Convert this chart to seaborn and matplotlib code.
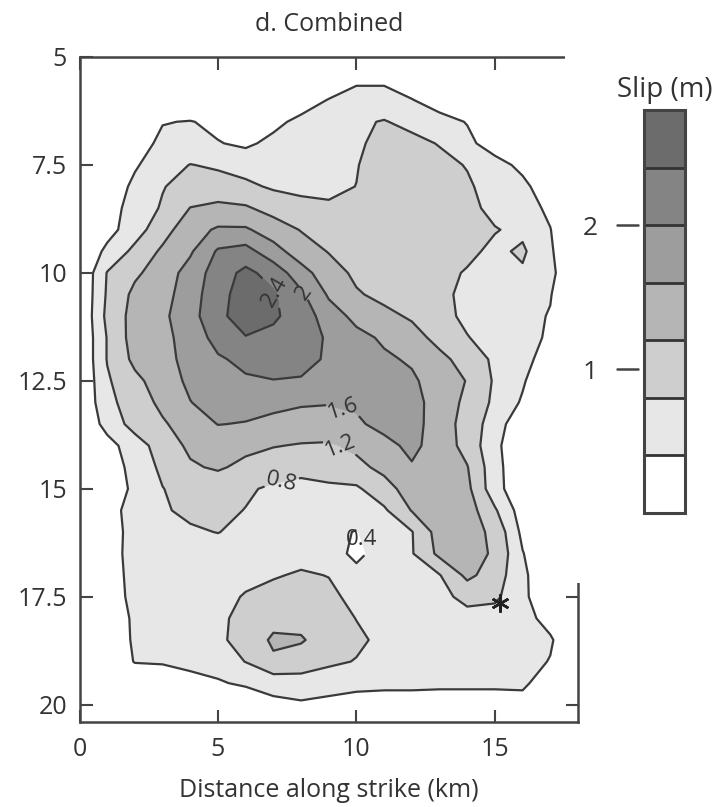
import matplotlib
matplotlib.use("Agg")
import matplotlib.pyplot as plt
import seaborn as sns
import numpy as np
from matplotlib.patches import Rectangle

# ---- data (slip in metres) ----
x_km = [0, 1, 2, 3, 4, 5, 6, 7, 8, 9, 10, 11, 12, 13, 14, 15, 16, 17, 18]
y_km = [5.0, 5.5, 6.0, 6.5, 7.0, 7.5, 8.0, 8.5, 9.0, 9.5, 10.0, 10.5, 11.0, 11.5,
        12.0, 12.5, 13.0, 13.5, 14.0, 14.5, 15.0, 15.5, 16.0, 16.5, 17.0, 17.5,
        18.0, 18.5, 19.0, 19.5, 20.0, 20.5]
slip_m = [
    [0, 0, 0, 0, 0, 0, 0, 0, 0, 0, 0, 0, 0, 0, 0, 0, 0, 0, 0],
    [0, 0, 0, 0, 0, 0, 0, 0, 0, 0.1, 0.3, 0.3, 0.1, 0, 0, 0, 0, 0, 0],
    [0, 0, 0, 0, 0, 0, 0, 0, 0.2, 0.42, 0.6, 0.6, 0.42, 0.2, 0, 0, 0, 0, 0],
    [0, 0, 0, 0.38, 0.42, 0.3, 0.25, 0.3, 0.5, 0.6, 0.75, 0.82, 0.7, 0.55, 0.38, 0.2, 0, 0, 0],
    [0, 0, 0.2, 0.5, 0.55, 0.42, 0.33, 0.5, 0.6, 0.65, 0.75, 0.9, 0.9, 0.78, 0.5, 0.2, 0, 0, 0],
    [0, 0, 0.35, 0.65, 0.81, 0.75, 0.65, 0.68, 0.7, 0.72, 0.78, 1.0, 1.0, 0.9, 0.78, 0.55, 0.3, 0, 0],
    [0, 0.1, 0.5, 0.78, 0.95, 0.95, 0.88, 0.75, 0.72, 0.72, 0.805, 1.0, 1.05, 1.0, 0.85, 0.65, 0.5, 0.15, 0],
    [0, 0.2, 0.58, 0.84, 1.21, 1.3, 1.25, 1.05, 0.9, 0.85, 0.9, 1.0, 1.05, 1.0, 0.9, 0.7, 0.55, 0.33, 0],
    [0, 0.25, 0.63, 1.04, 1.45, 1.65, 1.65, 1.41, 1.18, 1.01, 0.97, 1.0, 1.0, 0.95, 0.9, 0.82, 0.72, 0.41, 0],
    [0, 0.5, 0.9, 1.27, 1.55, 2.05, 2.15, 1.75, 1.4, 1.18, 1.05, 1.0, 0.98, 0.95, 0.88, 0.72, 0.86, 0.45, 0],
    [0, 0.82, 1.13, 1.4, 1.75, 2.2, 2.5, 2.25, 1.75, 1.38, 1.12, 1.05, 1.0, 0.9, 0.77, 0.65, 0.75, 0.5, 0],
    [0, 0.85, 1.3, 1.45, 1.82, 2.25, 2.6, 2.45, 2.08, 1.55, 1.24, 1.1, 1.0, 0.88, 0.72, 0.62, 0.55, 0.42, 0],
    [0, 0.9, 1.35, 1.52, 1.85, 2.3, 2.6, 2.45, 2.25, 1.78, 1.5, 1.3, 1.15, 0.95, 0.7, 0.6, 0.5, 0.38, 0],
    [0, 0.82, 1.38, 1.5, 1.75, 2.15, 2.38, 2.32, 2.15, 1.96, 1.7, 1.55, 1.35, 1.08, 0.82, 0.62, 0.52, 0.35, 0],
    [0, 0.82, 1.3, 1.5, 1.7, 1.95, 2.1, 2.15, 2.12, 1.95, 1.75, 1.65, 1.56, 1.3, 1.05, 0.72, 0.5, 0.25, 0],
    [0, 0.75, 1.1, 1.4, 1.68, 1.85, 1.95, 1.99, 1.97, 1.85, 1.75, 1.7, 1.65, 1.45, 1.18, 0.75, 0.45, 0, 0],
    [0, 0.7, 0.98, 1.3, 1.59, 1.75, 1.75, 1.7, 1.64, 1.62, 1.65, 1.72, 1.72, 1.45, 1.1, 0.72, 0.35, 0, 0],
    [0, 0.55, 0.95, 1.15, 1.4, 1.61, 1.58, 1.5, 1.45, 1.45, 1.55, 1.7, 1.75, 1.4, 1.05, 0.6, 0.1, 0, 0],
    [0, 0.25, 0.62, 0.98, 1.28, 1.35, 1.3, 1.22, 1.17, 1.15, 1.28, 1.5, 1.68, 1.45, 1.05, 0.52, 0, 0, 0],
    [0, 0.15, 0.55, 0.88, 1.15, 1.25, 1.1, 0.98, 0.95, 1.0, 1.1, 1.3, 1.57, 1.45, 1.22, 0.55, 0.05, 0, 0],
    [0, 0.1, 0.5, 0.79, 0.95, 0.95, 0.85, 0.74, 0.65, 0.72, 0.74, 1.05, 1.38, 1.45, 1.3, 0.55, 0.1, 0, 0],
    [0, 0.2, 0.6, 0.76, 0.88, 0.88, 0.79, 0.7, 0.65, 0.62, 0.6, 0.74, 1.22, 1.4, 1.4, 0.85, 0.2, 0, 0],
    [0, 0.2, 0.55, 0.65, 0.75, 0.81, 0.7, 0.6, 0.55, 0.5, 0.38, 0.6, 0.78, 1.38, 1.38, 1.1, 0.3, 0, 0],
    [0, 0.22, 0.55, 0.6, 0.62, 0.62, 0.62, 0.65, 0.68, 0.55, 0.32, 0.55, 0.77, 1.3, 1.35, 1.15, 0.42, 0, 0],
    [0, 0.25, 0.5, 0.55, 0.58, 0.62, 0.7, 0.77, 0.84, 0.79, 0.5, 0.55, 0.65, 0.78, 1.3, 1.0, 0.5, 0, 0],
    [0, 0.25, 0.48, 0.52, 0.57, 0.68, 0.83, 0.92, 0.95, 0.88, 0.7, 0.6, 0.65, 0.7, 0.9, 0.88, 0.5, 0.05, 0],
    [0, 0.2, 0.45, 0.5, 0.55, 0.7, 0.95, 1.1, 1.1, 1.0, 0.79, 0.65, 0.6, 0.62, 0.68, 0.62, 0.55, 0.25, 0],
    [0, 0.15, 0.45, 0.5, 0.55, 0.7, 1.0, 1.25, 1.23, 1.05, 0.88, 0.7, 0.6, 0.58, 0.6, 0.6, 0.58, 0.45, 0],
    [0, 0.1, 0.42, 0.43, 0.48, 0.6, 0.81, 1.15, 1.05, 0.88, 0.78, 0.68, 0.6, 0.58, 0.6, 0.6, 0.55, 0.38, 0],
    [0, 0, 0.1, 0.2, 0.3, 0.35, 0.48, 0.55, 0.6, 0.55, 0.5, 0.5, 0.5, 0.48, 0.48, 0.48, 0.5, 0.1, 0],
    [0, 0, 0, 0, 0, 0, 0, 0.3, 0.35, 0.3, 0.25, 0.2, 0.2, 0.2, 0.2, 0.2, 0.2, 0, 0],
    [0, 0, 0, 0, 0, 0, 0, 0, 0, 0, 0, 0, 0, 0, 0, 0, 0, 0, 0],
]
slip_levels = [0, 0.4, 0.8, 1.2, 1.6, 2.0, 2.4, 2.8]
label_levels = [0.4, 0.8, 1.2, 1.6, 2.0, 2.4]
label_text = ["0.4", "0.8", "1.2", "1.6", "2", "2.4"]
label_spots_x = [10.0, 7.3, 9.5, 9.5, 8.2, 7.0]
label_spots_y = [16.2, 14.85, 13.9, 13.2, 10.4, 10.45]
hypo_x = [15.2]
hypo_y = [17.65]
cbar_ticks = [1, 2]
x_ticks = [0, 5, 10, 15]
y_ticks = [5, 7.5, 10, 12.5, 15, 17.5, 20]
y_ticklabels = ["5", "7.5", "10", "12.5", "15", "17.5", "20"]

# ---- style ----
sns.set_theme(style="white")
plt.rcParams["font.family"] = ["Open Sans", "DejaVu Sans"]
txt = "#333333"
line_c = "#3a3a3a"
fs = 18

W, H = 723, 807
fig = plt.figure(figsize=(W / 100, H / 100), dpi=100)
ax = fig.add_axes([79.5 / W, 1 - 722 / H, (578 - 79.5) / W, (722 - 57) / H])
ax.set_axisbelow(False)

Z = np.array(slip_m)
greys = sns.blend_palette(["#ffffff", "#6c6c6c"], 7)
cf = ax.contourf(x_km, y_km, Z, levels=slip_levels, colors=greys)
cl = ax.contour(x_km, y_km, Z, levels=slip_levels[1:-1], colors=line_c, linewidths=1.6)
lbls = ax.clabel(cl, levels=label_levels, manual=list(zip(label_spots_x, label_spots_y)),
                 fmt=dict(zip(label_levels, label_text)), inline=True, inline_spacing=2,
                 fontsize=16, colors=txt)
for t in lbls:
    if t.get_text() == "0.4":
        t.set_rotation(0)

ax.plot(hypo_x, hypo_y, ls="none", marker=(6, 2, 0), ms=13, mew=1.8, color="#222222")

ax.set_xlim(0, 18)
ax.set_ylim(20.4, 5)
ax.set_xticks(x_ticks)
ax.set_yticks(y_ticks)
ax.set_yticklabels(y_ticklabels)
ax.tick_params(direction="in", length=9, width=1.5, top=True, right=True,
               bottom=True, left=True, labelsize=fs, colors="#444444", labelcolor=txt)
ax.tick_params(axis="y", pad=9)
ax.tick_params(axis="x", pad=11)
for s in ax.spines.values():
    s.set_color("#444444")
    s.set_linewidth(1.8)
ax.set_xlabel("Distance along strike (km)", fontsize=fs, color=txt, labelpad=11)
ax.set_title("d. Combined", fontsize=fs, color=txt, pad=19)

# white panel behind the colour bar (covers the axes corner as in the source)
fig.add_artist(Rectangle((565 / W, 1 - 583 / H), 1 - 565 / W, 583 / H,
                         transform=fig.transFigure, facecolor="white",
                         edgecolor="none", zorder=5))

cax = fig.add_axes([644 / W, 1 - 513 / H, 41 / W, 403 / H])
cax.set_zorder(10)
cb = fig.colorbar(cf, cax=cax, drawedges=True, ticks=cbar_ticks)
cb.outline.set_linewidth(2.2)
cb.outline.set_edgecolor("#444444")
cb.dividers.set_color("#333333")
cb.dividers.set_linewidth(2.0)
cax.yaxis.set_ticks_position("left")
cax.tick_params(length=0, pad=33, labelsize=19, labelcolor=txt)
cax.set_yticklabels([str(t) for t in cbar_ticks])
for t in cbar_ticks:
    cax.plot([-0.66, -0.15], [t, t], transform=cax.get_yaxis_transform(),
             color="#444444", lw=1.8, clip_on=False)
cax.set_title("Slip (m)", fontsize=20, color=txt, pad=9)

fig.savefig("out.png", dpi=100)
